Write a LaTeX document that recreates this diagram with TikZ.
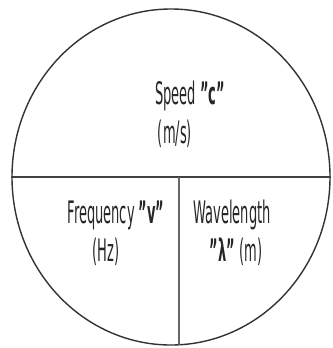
\documentclass[tikz,border=0pt]{standalone}
\usepackage{fontspec}
\setmainfont{DejaVu Sans}
\usetikzlibrary{shapes.geometric}
\begin{document}
\begin{tikzpicture}[x=1pt,y=-1pt,
  lbl/.style={inner sep=0pt, anchor=base, xscale=0.42, transform shape, text=black!85,
    font=\fontsize{31}{36}\selectfont},
  rim/.style={draw=black!80, line width=1.4pt},
  hline/.style={draw=black!75, line width=1.8pt},
  vline/.style={draw=black!60, line width=1.1pt}]
\useasboundingbox (0,0) rectangle (332,348);
\node[ellipse, rim, minimum width=318pt, minimum height=336pt, inner sep=0pt] (circ) at (171,177) {};
\coordinate (vtop) at (179,177);
\coordinate (vbot) at (179,344.8);
\draw[hline] (circ.west) -- (circ.east);
\draw[vline] (vtop) -- (vbot);
\node[lbl] (speed) at (190,104) {Speed \textbf{"c"}};
\node[lbl] (ms) at (175,143) {(m/s)};
\node[lbl] (freq) at (116,223) {Frequency \textbf{"v"}};
\node[lbl] (hz) at (106,261) {(Hz)};
\node[lbl] (wave) at (232,223) {Wavelength};
\node[lbl] (lam) at (236,261) {\textbf{"λ"} (m)};
\end{tikzpicture}
\end{document}
